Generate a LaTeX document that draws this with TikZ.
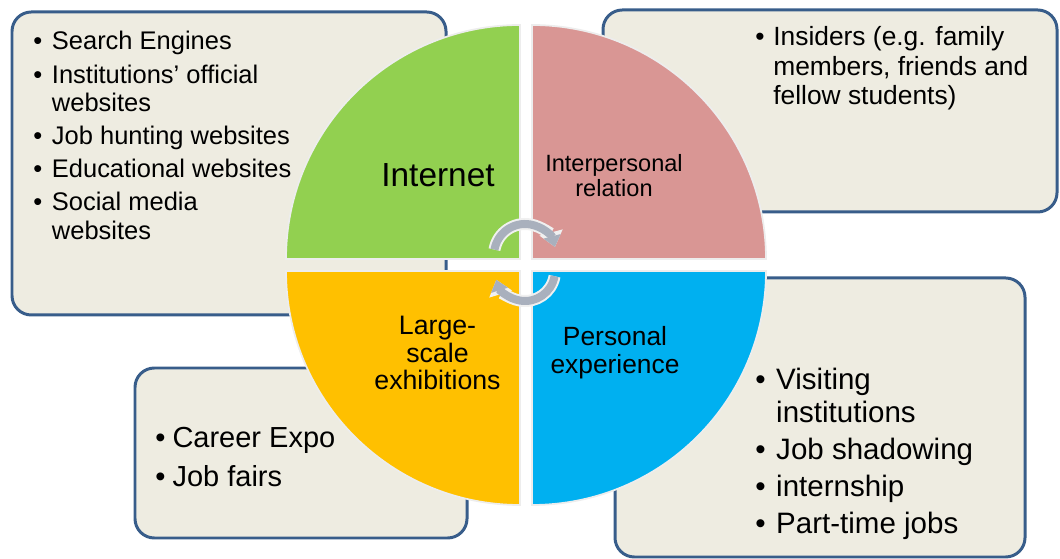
\documentclass[tikz,border=0pt]{standalone}
\usepackage{fontspec}
\setmainfont{Liberation Sans}
\usepackage{tikz}
\usetikzlibrary{shapes, arrows.meta, positioning}
\definecolor{boxfill}{HTML}{EEECE1}
\definecolor{boxline}{HTML}{385D8A}
\definecolor{netgreen}{HTML}{92D050}
\definecolor{relpink}{HTML}{D99694}
\definecolor{expoyellow}{HTML}{FFC000}
\definecolor{expblue}{HTML}{00B0F0}
\definecolor{cyclegray}{HTML}{A9B0BD}
\tikzstyle{infobox} = [rectangle, draw=boxline, fill=boxfill, line width=1.7pt, rounded corners=11pt, inner sep=0pt]
\tikzstyle{quad} = [draw=white!93!black, line width=1pt]
\tikzstyle{qlabel} = [align=center, inner sep=0pt, text=black]
\tikzstyle{blist} = [anchor=base west, inner sep=0pt, align=left]
\tikzstyle{cyclearrow} = [line width=0.16cm, draw=cyclegray, -{Triangle[width=0.34cm,length=0.22cm]}]
\tikzstyle{cycleedge} = [line width=0.24cm, draw=white!94!black, -{Triangle[width=0.46cm,length=0.3cm]}]

\begin{document}
\begin{tikzpicture}
			\useasboundingbox (0,0) rectangle (21.2,11.18);
			\node [infobox, minimum width=8.68cm, minimum height=6.06cm] (web) at (4.58, 7.91) {};
			\node [infobox, minimum width=9.08cm, minimum height=4.04cm] (insider) at (16.6, 8.96) {};
			\node [infobox, minimum width=6.64cm, minimum height=3.4cm] (fair) at (6.02, 2.12) {};
			\node [infobox, minimum width=8.2cm, minimum height=5.58cm] (work) at (16.4, 2.83) {};

			\fill [netgreen, quad] (10.40, 6.00) -- ++(-4.68, 0) arc (180:90:4.68) -- cycle;
			\fill [relpink, quad] (10.64, 6.00) -- ++(0, 4.68) arc (90:0:4.68) -- cycle;
			\fill [expoyellow, quad] (10.40, 5.76) -- ++(0, -4.68) arc (270:180:4.68) -- cycle;
			\fill [expblue, quad] (10.64, 5.76) -- ++(4.68, 0) arc (0:-90:4.68) -- cycle;

			\coordinate (ctop) at (10.5, 6.08);
			\coordinate (cbot) at (10.5, 5.76);
			\draw [cycleedge] (ctop) ++(170:0.62) arc (170:15:0.62);
			\draw [cyclearrow] (ctop) ++(170:0.62) arc (170:15:0.62);
			\draw [cycleedge] (cbot) ++(-10:0.6) arc (-10:-163:0.6);
			\draw [cyclearrow] (cbot) ++(-10:0.6) arc (-10:-163:0.6);

			\node [qlabel, font=\fontsize{19}{22}\selectfont] (internet) at (8.76, 7.68) {Internet};
			\node [qlabel, font=\fontsize{13.4}{14.2}\selectfont] (relation) at (12.28, 7.67) {Interpersonal\\relation};
			\node [qlabel, font=\fontsize{15.2}{15.9}\selectfont] (exhibit) at (8.75, 4.12) {Large-\\scale\\exhibitions};
			\node [qlabel, font=\fontsize{15}{15.9}\selectfont] (experience) at (12.3, 4.12) {Personal\\experience};

			\node [blist, font=\fontsize{14.5}{16.2}\selectfont] (weblist) at (0.66, 10.18) {\begin{tabular}[t]{@{}l@{\hspace{5.5pt}}l@{}}
				\textbullet & Search Engines\\[2.6pt]
				\textbullet & Institutions' official\\
				& websites\\[2.6pt]
				\textbullet & Job hunting websites\\[2.6pt]
				\textbullet & Educational websites\\[2.6pt]
				\textbullet & Social media\\
				& websites
			\end{tabular}};
			\node [blist, font=\fontsize{15}{16.7}\selectfont] (insiderlist) at (15.1, 10.26) {\begin{tabular}[t]{@{}l@{\hspace{5pt}}l@{}}
				\textbullet & Insiders (e.g. family\\
				& members, friends and\\
				& fellow students)
			\end{tabular}};
			\node [blist, font=\fontsize{16.5}{22.1}\selectfont] (fairlist) at (3.1, 2.22) {\begin{tabular}[t]{@{}l@{\hspace{4pt}}l@{}}
				\textbullet & Career Expo\\
				\textbullet & Job fairs
			\end{tabular}};
			\node [blist, font=\fontsize{16.8}{18.7}\selectfont] (worklist) at (15.1, 3.38) {\begin{tabular}[t]{@{}l@{\hspace{6pt}}l@{}}
				\textbullet & Visiting\\
				& institutions\\[2.3pt]
				\textbullet & Job shadowing\\[2.3pt]
				\textbullet & internship\\[2.3pt]
				\textbullet & Part-time jobs
			\end{tabular}};
		\end{tikzpicture}
\end{document}
